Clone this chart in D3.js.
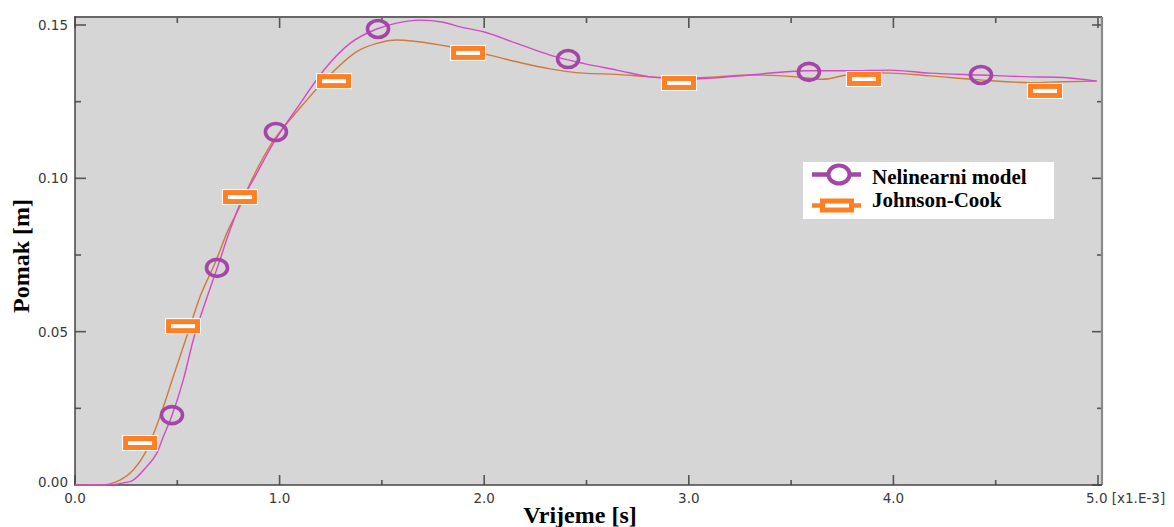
<!DOCTYPE html>
<html><head><meta charset="utf-8">
<script src="https://cdn.jsdelivr.net/npm/d3@7"></script>
<style>body{margin:0;background:#fff;overflow:hidden}</style>
</head><body><svg id="c" width="1174" height="527"></svg>
<script>
// time in ms (x1.E-3 s), displacement in m
const nelTime = [0,0.137,0.269,0.350,0.399,0.432,0.473,0.529,0.578,0.652,0.700,0.758,0.815,0.871,0.969,1.084,1.230,1.344,1.475,1.572,1.686,1.800,1.882,1.996,2.159,2.322,2.484,2.648,2.810,2.973,3.136,3.299,3.576,3.772,3.983,4.179,4.423,4.668,4.830,4.994];
const nelDisp = [0,0,0.0011,0.0060,0.0103,0.0158,0.0225,0.0342,0.0473,0.0625,0.0717,0.0832,0.0929,0.0995,0.1114,0.1228,0.1364,0.1440,0.1487,0.1506,0.1516,0.1509,0.1494,0.1478,0.1440,0.1402,0.1375,0.1353,0.1331,0.1323,0.1328,0.1337,0.1351,0.1351,0.1353,0.1343,0.1337,0.1331,0.1329,0.1317];
const jcTime = [0,0.122,0.220,0.285,0.342,0.391,0.432,0.480,0.546,0.611,0.684,0.749,0.806,0.864,0.961,1.084,1.246,1.377,1.475,1.572,1.670,1.833,2.012,2.159,2.322,2.484,2.648,2.810,2.973,3.136,3.299,3.527,3.657,3.772,3.951,4.179,4.423,4.668,4.830,4.994];
const jcDisp = [0,0,0.0016,0.0049,0.0103,0.0179,0.0255,0.0353,0.0484,0.0614,0.0723,0.0832,0.0908,0.0995,0.1114,0.1217,0.1337,0.1413,0.1440,0.1451,0.1446,0.1429,0.1404,0.1380,0.1357,0.1343,0.1339,0.1331,0.1328,0.1331,0.1337,0.1331,0.1323,0.1337,0.1344,0.1334,0.1321,0.1312,0.1315,0.1317];
const nelMarkTime = [0.474,0.694,0.982,1.481,2.410,3.587,4.428];
const nelMarkDisp = [0.0228,0.0708,0.1151,0.1487,0.1389,0.1347,0.1337];
const jcMarkTime = [0.318,0.528,0.806,1.266,1.921,2.952,3.856,4.741];
const jcMarkDisp = [0.0137,0.0518,0.0939,0.1317,0.1409,0.1311,0.1324,0.1285];
const xTicks = [0,1,2,3,4,5];
const xTickLabels = ["0.0","1.0","2.0","3.0","4.0","5.0 [x1.E-3]"];
const yTicks = [0,0.05,0.10,0.15];
const yTickLabels = ["0.00","0.05","0.10","0.15"];
const seriesNames = ["Nelinearni model","Johnson-Cook"];

const svg = d3.select("#c");
const L = 75, R = 1102, T = 17, B = 485;
const x = d3.scaleLinear().domain([0,5]).range([75,1098]);
const y = d3.scaleLinear().domain([0,0.15]).range([485,25]);

const lineCol = ["#d848c4","#cf7a3c"];
const markCol = ["#a346a6","#ff8024"];

// plot background
svg.append("rect").attr("x",L).attr("y",T).attr("width",R-L).attr("height",B-T).attr("fill","#d6d6d6");

// ticks
const minorX = d3.range(0,5.01,0.5), minorY = d3.range(0,0.1501,0.025);
const isMajX = v => Math.abs(v - Math.round(v)) < 1e-6;
const isMajY = v => Math.abs(v/0.05 - Math.round(v/0.05)) < 1e-6;
const tg = svg.append("g").attr("stroke","#555").attr("stroke-width",1.6);
minorX.forEach(v => {
  const len = isMajX(v) ? 10 : 5;
  tg.append("line").attr("x1",x(v)).attr("x2",x(v)).attr("y1",B).attr("y2",B-len);
  tg.append("line").attr("x1",x(v)).attr("x2",x(v)).attr("y1",T).attr("y2",T+(isMajX(v)?11:6));
});
minorY.forEach(v => {
  const len = isMajY(v) ? 11 : 6;
  tg.append("line").attr("x1",L).attr("x2",L+len).attr("y1",y(v)).attr("y2",y(v));
  tg.append("line").attr("x1",R).attr("x2",R-(isMajY(v)?10:5)).attr("y1",y(v)).attr("y2",y(v));
});

// frame
svg.append("line").attr("x1",L).attr("x2",R).attr("y1",T).attr("y2",T).attr("stroke","#666").attr("stroke-width",1.8);
svg.append("line").attr("x1",R).attr("x2",R).attr("y1",T).attr("y2",B).attr("stroke","#8a8a8a").attr("stroke-width",2.2);
svg.append("line").attr("x1",L).attr("x2",L).attr("y1",T-1).attr("y2",B+1).attr("stroke","#444").attr("stroke-width",1.5);
svg.append("line").attr("x1",L).attr("x2",R).attr("y1",B).attr("y2",B).attr("stroke","#444").attr("stroke-width",1.5);

// tick labels
const lab = svg.append("g").attr("font-family","DejaVu Sans, sans-serif").attr("font-size",13.5).attr("fill","#3a3a3a");
xTicks.forEach((v,i) => {
  const last = i === xTicks.length-1;
  lab.append("text").attr("x", last ? x(v)-12 : x(v)).attr("y",503)
    .attr("text-anchor", last ? "start" : "middle").text(xTickLabels[i]);
});
yTicks.forEach((v,i) => {
  lab.append("text").attr("x",68).attr("y",y(v) + (v===0 ? -3 : 0)).attr("dy","0.36em")
    .attr("text-anchor","end").text(yTickLabels[i]);
});

// lines
const mk = (xs,ys) => xs.map((t,i)=>[t,ys[i]]);
const line = d3.line().x(d=>x(d[0])).y(d=>y(d[1])).curve(d3.curveMonotoneX);
svg.append("path").datum(mk(jcTime,jcDisp)).attr("d",line).attr("fill","none").attr("stroke",lineCol[1]).attr("stroke-width",1.4);
svg.append("path").datum(mk(nelTime,nelDisp)).attr("d",line).attr("fill","none").attr("stroke",lineCol[0]).attr("stroke-width",1.4);

// markers
const rw = 29, rh = 9;
const jm = svg.append("g");
mk(jcMarkTime,jcMarkDisp).forEach(d => {
  jm.append("rect").attr("x",x(d[0])-rw/2-3.5).attr("y",y(d[1])-rh/2-3.5).attr("width",rw+7).attr("height",rh+7).attr("fill","#fff");
  jm.append("rect").attr("x",x(d[0])-rw/2).attr("y",y(d[1])-rh/2).attr("width",rw).attr("height",rh)
    .attr("fill","#fff").attr("stroke",markCol[1]).attr("stroke-width",5);
});
svg.append("g").selectAll("ellipse").data(mk(nelMarkTime,nelMarkDisp)).join("ellipse")
  .attr("cx",d=>x(d[0])).attr("cy",d=>y(d[1])).attr("rx",10.5).attr("ry",8.5)
  .attr("fill","none").attr("stroke",markCol[0]).attr("stroke-width",3.6);

// legend
const lg = svg.append("g");
lg.append("rect").attr("x",803).attr("y",162).attr("width",251).attr("height",57).attr("fill","#fff");
const ly = [174.5, 205.5];
lg.append("line").attr("x1",812).attr("x2",861).attr("y1",ly[0]).attr("y2",ly[0]).attr("stroke",markCol[0]).attr("stroke-width",4.5);
lg.append("ellipse").attr("cx",839).attr("cy",ly[0]).attr("rx",10.5).attr("ry",9).attr("fill","#fff").attr("stroke",markCol[0]).attr("stroke-width",4);
lg.append("line").attr("x1",812).attr("x2",861).attr("y1",ly[1]).attr("y2",ly[1]).attr("stroke",markCol[1]).attr("stroke-width",4.5);
lg.append("rect").attr("x",837-14.5).attr("y",ly[1]-4.5).attr("width",29).attr("height",9).attr("fill","#fff").attr("stroke",markCol[1]).attr("stroke-width",5);
seriesNames.forEach((n,i) => {
  lg.append("text").attr("x",872).attr("y",[183.5,207][i]).attr("font-family","Liberation Serif, Times New Roman, serif")
    .attr("font-weight","bold").attr("font-size",21).attr("fill","#000").text(n);
});

// axis titles
svg.append("text").attr("x",580).attr("y",523).attr("text-anchor","middle")
  .attr("font-family","Liberation Serif, Times New Roman, serif").attr("font-weight","bold").attr("font-size",24).attr("fill","#000").text("Vrijeme [s]");
svg.append("text").attr("transform","translate(29,256) rotate(-90)").attr("text-anchor","middle")
  .attr("font-family","Liberation Serif, Times New Roman, serif").attr("font-weight","bold").attr("font-size",24).attr("fill","#000").text("Pomak [m]");
</script></body></html>
